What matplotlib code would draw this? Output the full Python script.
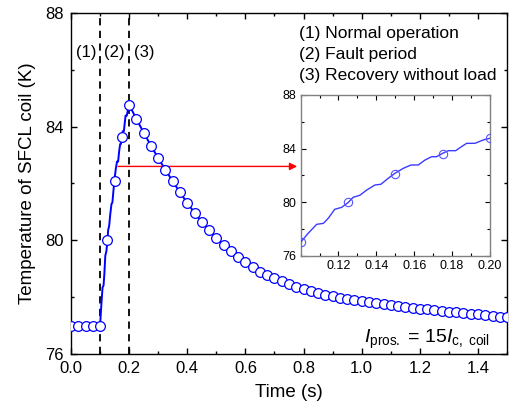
import matplotlib
matplotlib.use("Agg")
import matplotlib.pyplot as plt
from matplotlib.ticker import MultipleLocator, FormatStrFormatter

plt.rcParams['font.family'] = ['Liberation Sans', 'DejaVu Sans']
plt.rcParams['mathtext.fontset'] = 'custom'
plt.rcParams['mathtext.rm'] = 'Liberation Sans'
plt.rcParams['mathtext.it'] = 'Liberation Sans:italic'

# Coil temperature sampled every 25 ms (marker points)
marker_t = [0.000, 0.025, 0.050, 0.075, 0.100, 0.125, 0.150, 0.175, 0.200,
            0.225, 0.250, 0.275, 0.300, 0.325, 0.350, 0.375, 0.400, 0.425,
            0.450, 0.475, 0.500, 0.525, 0.550, 0.575, 0.600, 0.625, 0.650,
            0.675, 0.700, 0.725, 0.750, 0.775, 0.800, 0.825, 0.850, 0.875,
            0.900, 0.925, 0.950, 0.975, 1.000, 1.025, 1.050, 1.075, 1.100,
            1.125, 1.150, 1.175, 1.200, 1.225, 1.250, 1.275, 1.300, 1.325,
            1.350, 1.375, 1.400, 1.425, 1.450, 1.475, 1.500]
marker_T = [77.00, 77.00, 77.00, 77.00, 77.00, 80.00, 82.10, 83.62, 84.77,
            84.27, 83.79, 83.33, 82.89, 82.48, 82.07, 81.69, 81.31, 80.97,
            80.65, 80.36, 80.09, 79.84, 79.61, 79.40, 79.22, 79.05, 78.90,
            78.77, 78.66, 78.56, 78.46, 78.37, 78.29, 78.22, 78.15, 78.09,
            78.03, 77.98, 77.94, 77.90, 77.86, 77.82, 77.79, 77.75, 77.72,
            77.69, 77.66, 77.63, 77.60, 77.57, 77.55, 77.52, 77.49, 77.46,
            77.44, 77.42, 77.39, 77.36, 77.34, 77.31, 77.29]

# Finely resolved temperature during the fault period (0.1 s - 0.2 s)
fault_t = [0.1000, 0.1040, 0.1085, 0.1120, 0.1146, 0.1180, 0.1217, 0.1252,
           0.1278, 0.1313, 0.1349, 0.1393, 0.1424, 0.1463, 0.1498, 0.1542,
           0.1583, 0.1621, 0.1657, 0.1692, 0.1718, 0.1750, 0.1780, 0.1819,
           0.1850, 0.1877, 0.1921, 0.1965, 0.2000]
fault_T = [77.00, 77.67, 78.34, 78.41, 78.79, 79.46, 79.61, 79.98,
           80.36, 80.51, 80.90, 81.28, 81.33, 81.78, 82.15, 82.52,
           82.77, 82.77, 83.14, 83.39, 83.39, 83.64, 83.84, 83.84,
           84.14, 84.39, 84.39, 84.64, 84.77]

phase_bounds = [0.1, 0.2]
phase_labels = ["(1)", "(2)", "(3)"]
legend_lines = ["(1) Normal operation", "(2) Fault period",
                "(3) Recovery without load"]

# Continuous curve: normal operation, fault period, then recovery samples
line_t = [t for t in marker_t if t < 0.1] + fault_t + [t for t in marker_t if t > 0.2]
line_T = [T for t, T in zip(marker_t, marker_T) if t < 0.1] + fault_T + \
         [T for t, T in zip(marker_t, marker_T) if t > 0.2]

fig = plt.figure(figsize=(5.13, 4.13), dpi=100)
ax = fig.add_axes([0.1384, 0.1429, 0.850, 0.8257])

blue = '#0000ff'
ax.plot(line_t, line_T, color=blue, lw=1.4, zorder=3)
ax.plot(marker_t, marker_T, linestyle='none', marker='o', ms=7.0,
        mfc='white', mec=blue, mew=0.9, zorder=4)

for xb in phase_bounds:
    ax.axvline(xb, color='black', ls=(0, (4, 3)), lw=1.3, zorder=2)

ax.set_xlim(0, 1.5)
ax.set_ylim(76, 88)
ax.xaxis.set_major_locator(MultipleLocator(0.2))
ax.xaxis.set_minor_locator(MultipleLocator(0.1))
ax.xaxis.set_major_formatter(FormatStrFormatter('%.1f'))
ax.yaxis.set_major_locator(MultipleLocator(4))
ax.yaxis.set_minor_locator(MultipleLocator(2))
ax.tick_params(which='both', direction='in', top=True, right=True,
               labelsize=12, width=1.0)
ax.tick_params(which='major', length=4.5, pad=5)
ax.tick_params(which='minor', length=2.5)
for s in ax.spines.values():
    s.set_linewidth(1.0)

ax.set_xlabel('Time (s)', fontsize=13.5, labelpad=6)
ax.set_ylabel('Temperature of SFCL coil (K)', fontsize=13.5, labelpad=7)

# Phase markers above the curve
ax.text(0.052, 86.6, phase_labels[0], fontsize=12, ha='center', va='center')
ax.text(0.148, 86.6, phase_labels[1], fontsize=12, ha='center', va='center')
ax.text(0.217, 86.6, phase_labels[2], fontsize=12, ha='left', va='center')

for txt, yv in zip(legend_lines, [87.27, 86.55, 85.8]):
    ax.text(0.783, yv, txt, fontsize=12.5, ha='left', va='center')

ax.text(1.008, 76.38, r'$\mathit{I}_{\mathrm{pros.}}$ = 15$\mathit{I}_{\mathrm{c,\ coil}}$',
        fontsize=14, ha='left', va='baseline')

# Arrow pointing from the fault period to the zoomed view
ax.annotate('', xy=(0.778, 82.6), xytext=(0.162, 82.6),
            arrowprops=dict(arrowstyle='-|>', color='red', lw=1.0,
                            mutation_scale=11, shrinkA=0, shrinkB=0))

# Inset: detail of the fault period
axin = fig.add_axes([0.586, 0.381, 0.369, 0.389])
inset_blue = '#3b3bff'
axin.plot(fault_t, fault_T, color=inset_blue, lw=1.0, zorder=3)
axin.plot(marker_t, marker_T, linestyle='none', marker='o', ms=6.0,
          mfc='none', mec='#5555ff', mew=0.8, zorder=4)
axin.set_xlim(0.1, 0.2)
axin.set_ylim(76, 88)
axin.set_xticks([0.12, 0.14, 0.16, 0.18, 0.20])
axin.xaxis.set_minor_locator(MultipleLocator(0.01))
axin.xaxis.set_major_formatter(FormatStrFormatter('%.2f'))
axin.yaxis.set_major_locator(MultipleLocator(4))
axin.yaxis.set_minor_locator(MultipleLocator(2))
axin.tick_params(which='both', direction='in', top=True, right=True,
                 labelsize=9, width=0.8, pad=3)
axin.tick_params(which='major', length=3.5)
axin.tick_params(which='minor', length=2)
for s in axin.spines.values():
    s.set_edgecolor('#808080')
    s.set_linewidth(1.0)

fig.savefig('out.png', dpi=100)
